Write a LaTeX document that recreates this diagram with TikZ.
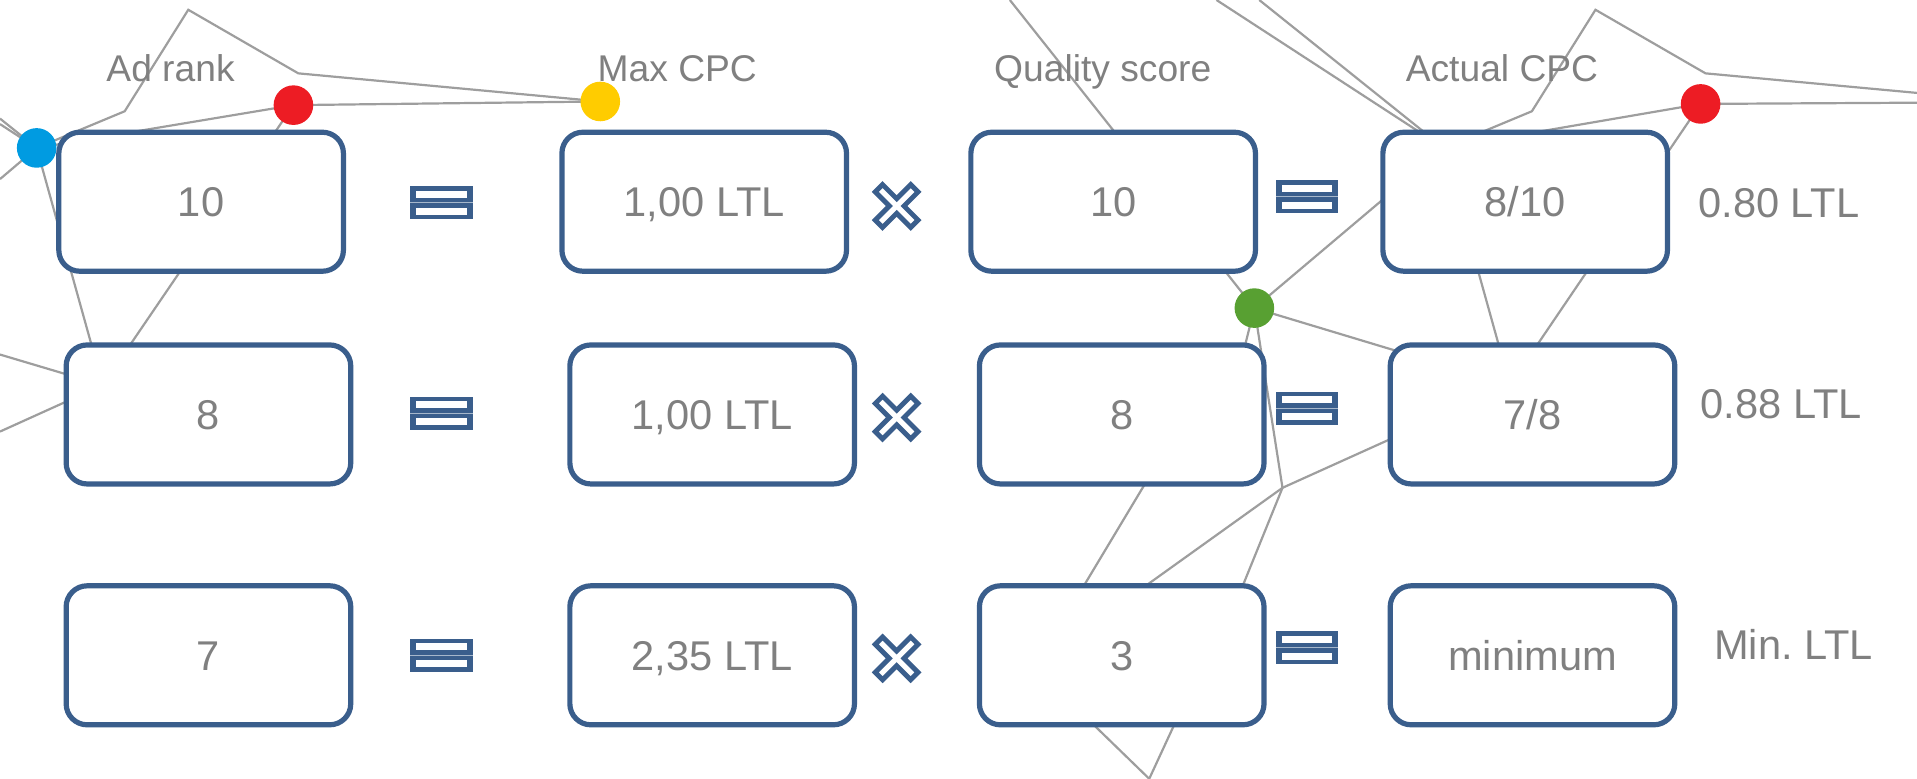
\documentclass[tikz,border=0pt]{standalone}
\usepackage{fontspec}
\setmainfont{Liberation Sans}
\definecolor{boxblue}{RGB}{58,94,140}
\definecolor{txtgray}{RGB}{128,128,128}
\definecolor{lngray}{RGB}{158,158,158}
\definecolor{dotblue}{RGB}{0,155,225}
\definecolor{dotred}{RGB}{237,28,36}
\definecolor{dotyellow}{RGB}{255,204,0}
\definecolor{dotgreen}{RGB}{88,160,50}
\pgfdeclarelayer{bg}
\pgfsetlayers{bg,main}
\tikzset{
  netline/.style={draw=lngray,line width=1.1pt},
  netdot/.style={circle,minimum size=19.8pt,inner sep=0pt,fill=#1},
  valbox/.style={draw=boxblue,line width=2.6pt,fill=white,rounded corners=10.5pt,
    minimum width=142.3pt,minimum height=69.5pt,inner sep=0pt,
    font=\fontsize{20.8pt}{25pt}\selectfont,text=txtgray,text height=14.9pt,text depth=0pt},
  sidelabel/.style={inner sep=0pt,font=\fontsize{20.8pt}{25pt}\selectfont,text=txtgray,
    text height=14.9pt,text depth=0pt},
  header/.style={inner sep=0pt,anchor=base,font=\fontsize{18.6pt}{22pt}\selectfont,text=txtgray},
  eqsign/.pic={
    \fill[boxblue] (-25.5,-13.5) rectangle (25.5,13.5);
    \fill[white] (-20.6,-9.8) rectangle (20.6,-4.2);
    \fill[white] (-20.6,4.2) rectangle (20.6,9.8);
    \draw[boxblue!45,line width=0.5pt] (-25.5,0) -- (25.5,0);
  },
  mulsign/.pic={
    \draw[boxblue,line width=2.45pt,fill=white,line join=miter]
      (0,-6.01) -- (11.49,-17.5) -- (17.5,-11.49) -- (6.01,0) -- (17.5,11.49) -- (11.49,17.5)
      -- (0,6.01) -- (-11.49,17.5) -- (-17.5,11.49) -- (-6.01,0) -- (-17.5,-11.49) -- (-11.49,-17.5) -- cycle;
  }
}
\begin{document}
\begin{tikzpicture}[x=0.6113pt,y=-0.6113pt]
\useasboundingbox (0,0) rectangle (1568,637);

% ---- hidden / edge points of the background network
\coordinate (e1) at (0,97);
\coordinate (e2) at (0,101.5);
\coordinate (e3) at (0,146.5);
\coordinate (e4) at (0,290);
\coordinate (e5) at (0,353);
\coordinate (p1) at (102,91);
\coordinate (p2) at (154,8);
\coordinate (p3) at (244,60);
\coordinate (n2) at (84,315);
\coordinate (h) at (1181,121);
\coordinate (q1) at (1253,91);
\coordinate (q2) at (1305,8);
\coordinate (q3) at (1395,60);
\coordinate (n2r) at (1235,315);
\coordinate (t1) at (1030,0);
\coordinate (t2) at (995,0);
\coordinate (t3) at (826,0);
\coordinate (r1e) at (1568,76);
\coordinate (r2e) at (1568,84);
\coordinate (j) at (1049,399);
\coordinate (m1) at (1011,312);
\coordinate (m2) at (952,370);
\coordinate (k1) at (908,500);
\coordinate (k2) at (1008,500);
\coordinate (k3) at (871,505);
\coordinate (k4) at (871,570);
\coordinate (k5) at (971,570);
\coordinate (v) at (940,637);

% ---- coloured dots
\node[netdot=dotblue] (B) at (30,121) {};
\node[netdot=dotred] (R1) at (240,86) {};
\node[netdot=dotyellow] (Y) at (491,83) {};
\node[netdot=dotred] (R2) at (1391,85) {};
\node[netdot=dotgreen] (G) at (1026,252) {};

% ---- network lines
\begin{pgfonlayer}{bg}
\draw[netline] (B.center) -- (e1);
\draw[netline] (B.center) -- (e2);
\draw[netline] (B.center) -- (e3);
\draw[netline] (B.center) -- (p1) -- (p2) -- (p3) -- (Y.center);
\draw[netline] (B.center) -- (R1.center);
\draw[netline] (R1.center) -- (Y.center);
\draw[netline] (R1.center) -- (n2);
\draw[netline] (B.center) -- (n2);
\draw[netline] (e4) -- (n2);
\draw[netline] (e5) -- (n2);
\draw[netline] (h) -- (t1);
\draw[netline] (h) -- (t2);
\draw[netline] (h) -- (q1) -- (q2) -- (q3) -- (r1e);
\draw[netline] (h) -- (R2.center);
\draw[netline] (R2.center) -- (r2e);
\draw[netline] (R2.center) -- (n2r);
\draw[netline] (h) -- (n2r);
\draw[netline] (h) -- (G.center);
\draw[netline] (G.center) -- (t3);
\draw[netline] (G.center) -- (n2r);
\draw[netline] (G.center) -- (j);
\draw[netline] (G.center) -- (m1);
\draw[netline] (j) -- (n2r);
\draw[netline] (j) -- (k1);
\draw[netline] (j) -- (k2);
\draw[netline] (m2) -- (k3);
\draw[netline] (v) -- (k4);
\draw[netline] (v) -- (k5);
\end{pgfonlayer}

% ---- headers
\node[header] (h1) at (139.5,67) {Ad rank};
\node[header] (h2) at (554,67) {Max CPC};
\node[header] (h3) at (902,67) {Quality score};
\node[header] (h4) at (1228.5,67) {Actual CPC};

% ---- value boxes
\node[valbox] (a1) at (164.5,165) {10};
\node[valbox] (b1) at (576,165) {1,00 LTL};
\node[valbox] (c1) at (910.5,165) {10};
\node[valbox] (d1) at (1247.5,165) {8/10};
\node[valbox] (a2) at (170.5,339) {8};
\node[valbox] (b2) at (582.5,339) {1,00 LTL};
\node[valbox] (c2) at (917.5,339) {8};
\node[valbox] (d2) at (1253.5,339) {7/8};
\node[valbox] (a3) at (170.5,536) {7};
\node[valbox] (b3) at (582.5,536) {2,35 LTL};
\node[valbox] (c3) at (917.5,536) {3};
\node[valbox] (d3) at (1253.5,536) {minimum};

% ---- results
\node[sidelabel] (s1) at (1455,166) {0.80 LTL};
\node[sidelabel] (s2) at (1457,330) {0.88 LTL};
\node[sidelabel] (s3) at (1467,527) {Min.\ LTL};

% ---- operators
\pic at (361,166) {eqsign};
\pic at (361,338) {eqsign};
\pic at (361,536) {eqsign};
\pic at (1069,161) {eqsign};
\pic at (1069,334) {eqsign};
\pic at (1069,530) {eqsign};
\pic at (733.4,168.5) {mulsign};
\pic at (733.4,341.5) {mulsign};
\pic at (733.4,538.5) {mulsign};
\end{tikzpicture}
\end{document}
